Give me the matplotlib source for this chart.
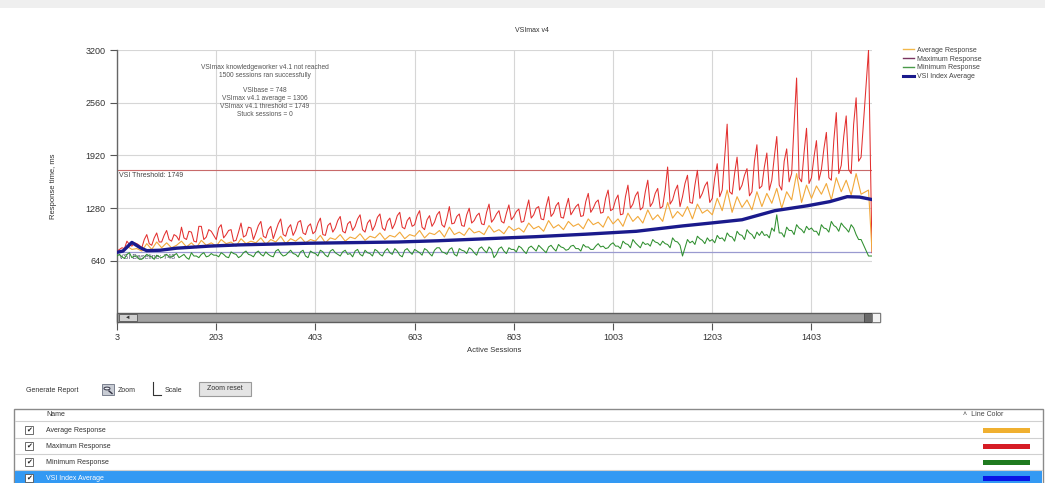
import matplotlib
matplotlib.use('Agg')
import matplotlib.pyplot as plt
from matplotlib.patches import Rectangle, Circle
from matplotlib.lines import Line2D

plt.rcParams['font.family'] = ['Liberation Sans', 'DejaVu Sans']

W, H = 1045, 483

# x axis: active sessions. Max/min read every 5 sessions, average every 10,
# plus the last two samples at the right edge
sessions_5 = list(range(3, 1508, 5)) + [1518, 1525]
sessions_10 = list(range(3, 1513, 10)) + [1518, 1525]

max_response = [
    760, 780, 800, 790, 880, 840, 820, 860, 850, 830, 800, 900, 960, 850, 830, 920, 980, 870, 870, 950,
    1010, 900, 880, 960, 940, 890, 1050, 920, 900, 1000, 990, 880, 870, 1060, 1060, 900, 930, 1020, 1000, 950,
    900, 1040, 1080, 920, 960, 1010, 1020, 880, 890, 990, 1100, 930, 950, 1050, 1040, 900, 980, 1070, 1120, 940,
    920, 1020, 1060, 910, 1000, 1090, 1150, 960, 940, 1040, 1080, 950, 1010, 1110, 1130, 980, 960, 1060, 1090, 970,
    1000, 1100, 1160, 960, 950, 1070, 1100, 990, 1040, 1130, 1180, 1000, 980, 1090, 1120, 1010, 1060, 1150, 1200, 1020,
    990, 1100, 1140, 1010, 1070, 1170, 1210, 1040, 1010, 1120, 1160, 1030, 1090, 1190, 1230, 1050, 1030, 1130, 1170, 1060,
    1080, 1190, 1250, 1050, 1020, 1140, 1190, 1060, 1110, 1200, 1240, 1080, 1050, 1160, 1300, 1090, 1100, 1180, 1210, 1070,
    1060, 1200, 1280, 1100, 1130, 1190, 1220, 1090, 1080, 1230, 1330, 1110, 1150, 1210, 1250, 1120, 1100, 1220, 1320, 1140,
    1180, 1240, 1270, 1110, 1120, 1260, 1380, 1160, 1200, 1280, 1300, 1150, 1140, 1300, 1420, 1180, 1220, 1310, 1350, 1170,
    1160, 1290, 1400, 1200, 1250, 1300, 1330, 1180, 1190, 1360, 1460, 1230, 1280, 1350, 1380, 1220, 1230, 1400, 1500, 1250,
    1270, 1380, 1440, 1200, 1210, 1420, 1560, 1280, 1330, 1430, 1480, 1260, 1290, 1480, 1620, 1300, 1350, 1460, 1520, 1280,
    1300, 1500, 1780, 1330, 1380, 1490, 1560, 1300, 1420, 1580, 1680, 1350, 1340, 1560, 1740, 1400, 1460, 1550, 1600, 1350,
    1400, 1650, 1820, 1420, 1500, 1900, 2300, 1480, 1450, 1700, 1900, 1500, 1560, 1680, 1760, 1430, 1480, 1850, 2050, 1520,
    1550, 1780, 1950, 1500, 1620, 1900, 2150, 1560, 1500, 1850, 2000, 1600, 1700, 2300, 2860, 1650, 1600, 1950, 2250, 1580,
    1650, 1900, 2100, 1620, 1750, 2000, 2200, 1650, 1620, 2100, 2440, 1700, 1800, 2150, 2400, 1750, 1700, 2300, 2620, 1850,
    1900, 3200, 740,
]

min_response = [
    700, 720, 690, 670, 720, 740, 680, 700, 700, 660, 660, 690, 720, 700, 690, 660, 710, 690, 680, 700,
    720, 690, 690, 710, 730, 680, 700, 720, 680, 660, 740, 700, 700, 680, 720, 740, 690, 700, 730, 710,
    710, 690, 740, 720, 690, 680, 750, 730, 720, 680, 700, 740, 760, 720, 710, 690, 740, 760, 720, 700,
    750, 720, 700, 690, 760, 780, 730, 700, 710, 740, 770, 730, 720, 690, 750, 770, 700, 680, 760, 740,
    730, 700, 770, 750, 710, 690, 760, 780, 740, 720, 700, 750, 770, 720, 730, 690, 760, 780, 720, 700,
    770, 740, 730, 700, 780, 760, 720, 700, 760, 790, 740, 720, 790, 760, 710, 690, 770, 790, 750, 720,
    780, 760, 740, 710, 790, 770, 730, 700, 770, 800, 800, 750, 740, 720, 780, 800, 720, 700, 790, 770,
    760, 730, 800, 780, 740, 710, 790, 810, 770, 740, 810, 780, 680, 720, 790, 810, 760, 730, 800, 780,
    780, 750, 820, 800, 760, 730, 800, 820, 790, 760, 830, 800, 770, 740, 810, 830, 790, 760, 840, 810,
    800, 770, 780, 820, 830, 790, 790, 760, 840, 810, 810, 780, 780, 820, 850, 810, 820, 790, 800, 840,
    860, 820, 820, 790, 880, 850, 840, 800, 900, 860, 830, 800, 870, 840, 850, 820, 900, 870, 860, 830,
    880, 850, 840, 800, 920, 880, 870, 830, 700, 800, 900, 860, 880, 840, 940, 910, 890, 850, 920, 880,
    900, 860, 950, 910, 920, 880, 980, 940, 930, 880, 1000, 960, 950, 900, 1020, 980, 960, 910, 990, 950,
    1000, 950, 960, 920, 1040, 1000, 1200, 980, 980, 930, 1050, 1010, 1010, 960, 1080, 1040, 1020, 980, 1060, 1020,
    1040, 1000, 1000, 950, 1080, 1040, 1030, 990, 1120, 1070, 1050, 1000, 1100, 1060, 1030, 990, 1080, 1040, 960, 900,
    900, 700, 700,
]

avg_response = [
    740, 760, 820, 780, 790, 760, 850, 780, 870, 800,
    860, 800, 830, 880, 810, 860, 800, 890, 830, 860,
    820, 900, 850, 870, 820, 910, 850, 880, 860, 920,
    840, 900, 870, 940, 850, 910, 880, 930, 860, 900,
    880, 950, 860, 920, 900, 960, 880, 930, 910, 970,
    890, 940, 920, 980, 900, 950, 930, 990, 910, 960,
    940, 1010, 920, 980, 960, 1010, 930, 1050, 960, 990,
    950, 1040, 980, 1000, 960, 1070, 990, 1020, 970, 1060,
    1010, 1040, 990, 1100, 1030, 1060, 1000, 1130, 1040, 1080,
    1020, 1120, 1060, 1090, 1030, 1150, 1080, 1110, 1050, 1180,
    1090, 1150, 1060, 1220, 1120, 1180, 1100, 1260, 1140, 1200,
    1120, 1350, 1160, 1240, 1180, 1300, 1150, 1330, 1220, 1260,
    1200, 1400, 1250, 1500, 1230, 1420, 1290, 1380, 1260, 1480,
    1300, 1460, 1340, 1520, 1280, 1480, 1380, 1700, 1350, 1560,
    1400, 1550, 1450, 1580, 1380, 1650, 1480, 1620, 1440, 1700,
    1450, 1500, 760,
]

vsi_sessions = [3, 15, 33, 50, 63, 90, 123, 189, 250, 389, 569, 650, 769,
                849, 949, 1050, 1143, 1200, 1263, 1329, 1395, 1440, 1475,
                1500, 1525]
vsi_index_avg = [745, 760, 865, 800, 765, 770, 795, 820, 835, 855, 870, 885,
                 915, 935, 965, 1000, 1065, 1100, 1140, 1250, 1310, 1360,
                 1420, 1415, 1385]

vsi_base = 748
vsi_threshold = 1749

x_ticks = [3, 203, 403, 603, 803, 1003, 1203, 1403]
y_ticks = [640, 1280, 1920, 2560, 3200]

series_names = ['Average Response', 'Maximum Response', 'Minimum Response', 'VSI Index Average']
line_colors = ['#f2a93b', '#e3302f', '#2f8f2f', '#1a1a8c']
table_colors = ['#f0b030', '#d61c25', '#1f7a1f', '#0a14e6']
legend_colors = ['#f2b84a', '#7a3560', '#4a9a4a', '#1a1a8c']


def fx(x):
    return x / W


def fy(y):
    return 1 - y / H


fig = plt.figure(figsize=(W / 100, H / 100), dpi=100)
fig.patch.set_facecolor('white')

# light strip at the top of the screenshot
fig.add_artist(Rectangle((0, fy(8)), 1, 8 / H, transform=fig.transFigure,
                         facecolor='#efefef', edgecolor='none'))

# plot area: top = 3200 at y=50, bottom of scrollbar at y=323
ax = fig.add_axes([fx(117), fy(323), fx(872) - fx(117), (323 - 50) / H])
ax.set_xlim(3, 1525)
ax.set_ylim(-113, 3200)

ax.plot(sessions_5, max_response, color=line_colors[1], lw=0.75, zorder=3)
ax.plot(sessions_10, avg_response, color=line_colors[0], lw=0.8, zorder=4)
ax.plot(sessions_5, min_response, color=line_colors[2], lw=0.75, zorder=5)
ax.plot(vsi_sessions, vsi_index_avg, color=line_colors[3], lw=2.4, zorder=6,
        solid_capstyle='round')

ax.axhline(vsi_threshold, color='#c86a6a', lw=0.8, zorder=2)
ax.axhline(vsi_base, color='#9a9ad0', lw=0.9, zorder=2)
ax.text(8, vsi_threshold - 30, 'VSI Threshold: %d' % vsi_threshold, fontsize=5,
        color='#444444', va='top', zorder=2)
ax.text(8, vsi_base - 25, 'VSI Baseline: %d' % vsi_base, fontsize=5,
        color='#555577', va='top', zorder=1)

ax.set_xticks(x_ticks)
ax.set_yticks(y_ticks)
ax.tick_params(axis='both', labelsize=6.5, colors='#555555', labelcolor='#333333',
               length=5, width=0.8)
ax.tick_params(axis='x', pad=2)
for s in ['top', 'right', 'bottom']:
    ax.spines[s].set_visible(False)
ax.spines['left'].set_color('#666666')
ax.spines['left'].set_linewidth(1.0)
ax.grid(True, color='#d6d6d6', lw=0.8, zorder=0)
ax.set_axisbelow(True)
ax.set_xlabel('Active Sessions', fontsize=5.5, color='#333333', labelpad=4)
ax.set_ylabel('Response time, ms', fontsize=5.5, color='#333333', labelpad=20)

# scrollbar under the plot
fig.add_artist(Rectangle((fx(117), fy(322)), fx(880) - fx(117), 9 / H,
                         transform=fig.transFigure, facecolor='#a2a2a2',
                         edgecolor='#5e5e5e', lw=1.0))
fig.add_artist(Rectangle((fx(119), fy(321)), fx(137) - fx(119), 7 / H,
                         transform=fig.transFigure, facecolor='#d0d0d0',
                         edgecolor='#555555', lw=0.6))
fig.text(fx(128), fy(317.5), '\u25c4', fontsize=4, color='#333333',
         ha='center', va='center')
fig.add_artist(Rectangle((fx(864), fy(322)), 8 / W, 9 / H,
                         transform=fig.transFigure, facecolor='#6a6a6a',
                         edgecolor='#444444', lw=0.6))
fig.add_artist(Rectangle((fx(872), fy(322)), 8 / W, 9 / H,
                         transform=fig.transFigure, facecolor='#f2f2f2',
                         edgecolor='#777777', lw=0.6))

# title and summary text
fig.text(fx(532), fy(30), 'VSImax v4', fontsize=5, color='#333333',
         ha='center', va='center')
summary = ('VSImax knowledgeworker v4.1 not reached\n'
           '1500 sessions ran successfully\n\n'
           'VSIbase = %d\n'
           'VSImax v4.1 average = 1306\n'
           'VSImax v4.1 threshold = %d\n'
           'Stuck sessions = 0') % (vsi_base, vsi_threshold)
fig.text(fx(265), fy(64), summary, fontsize=4.8, color='#555555',
         ha='center', va='top', linespacing=1.15)

# legend
handles = [Line2D([], [], color=c, lw=(2.2 if i == 3 else 1.0))
           for i, c in enumerate(legend_colors)]
fig.legend(handles, series_names, loc='upper left',
           bbox_to_anchor=(fx(898), fy(42)), fontsize=5, frameon=False,
           handlelength=1.6, handletextpad=0.5, labelspacing=0.25,
           labelcolor='#444444', borderpad=0.2)

# toolbar under the chart
fig.text(fx(26), fy(390), 'Generate Report', fontsize=5, color='#333333', va='center')
fig.add_artist(Rectangle((fx(102), fy(395)), 12 / W, 11 / H, transform=fig.transFigure,
                         facecolor='#c8ccd4', edgecolor='#6a7080', lw=0.6))
fig.add_artist(Circle((fx(107), fy(388.5)), 3 / W, transform=fig.transFigure,
                      facecolor='#eef2f8', edgecolor='#333344', lw=0.7))
fig.add_artist(Line2D([fx(109), fx(112)], [fy(391), fy(393.5)],
                      transform=fig.transFigure, color='#333344', lw=1.0))
fig.text(fx(118), fy(390), 'Zoom', fontsize=5, color='#333333', va='center')
fig.add_artist(Line2D([fx(153), fx(153), fx(161)], [fy(382), fy(395), fy(395)],
                      transform=fig.transFigure, color='#333333', lw=0.8))
fig.text(fx(165), fy(390), 'Scale', fontsize=5, color='#333333', va='center')
fig.add_artist(Rectangle((fx(199), fy(396)), 52 / W, 14 / H, transform=fig.transFigure,
                         facecolor='#e4e4e4', edgecolor='#9a9a9a', lw=0.8))
fig.text(fx(225), fy(389), 'Zoom reset', fontsize=5, color='#333333',
         ha='center', va='center')

# series table
fig.add_artist(Rectangle((fx(14), fy(490)), fx(1043) - fx(14), 81 / H,
                         transform=fig.transFigure, facecolor='white',
                         edgecolor='#8a8a8a', lw=1.0))
fig.add_artist(Rectangle((fx(15), fy(486)), fx(1042) - fx(15), 16 / H,
                         transform=fig.transFigure, facecolor='#3399f3',
                         edgecolor='none'))
fig.text(fx(46), fy(415), 'Name', fontsize=5, color='#333333', va='center')
fig.text(fx(963), fy(415), '\u02c4  Line Color', fontsize=5, color='#444444', va='center')
row_y = [430, 446, 462, 478]
for y in [421, 438, 454, 470]:
    fig.add_artist(Line2D([fx(15), fx(1042)], [fy(y), fy(y)], transform=fig.transFigure,
                          color='#d0d0d0', lw=0.8))
for i, name in enumerate(series_names):
    y = row_y[i]
    selected = (i == 3)
    fig.add_artist(Rectangle((fx(25), fy(y + 4)), 8 / W, 8 / H, transform=fig.transFigure,
                             facecolor='white', edgecolor='#555555', lw=0.6))
    fig.text(fx(29), fy(y), '\u2714', fontsize=5, color='#222222',
             ha='center', va='center')
    fig.text(fx(46), fy(y), name, fontsize=5, va='center',
             color='white' if selected else '#333333')
    fig.add_artist(Rectangle((fx(983), fy(y + 2.5)), 47 / W, 5 / H,
                             transform=fig.transFigure, facecolor=table_colors[i],
                             edgecolor='none'))

fig.savefig('out.png', dpi=100)
